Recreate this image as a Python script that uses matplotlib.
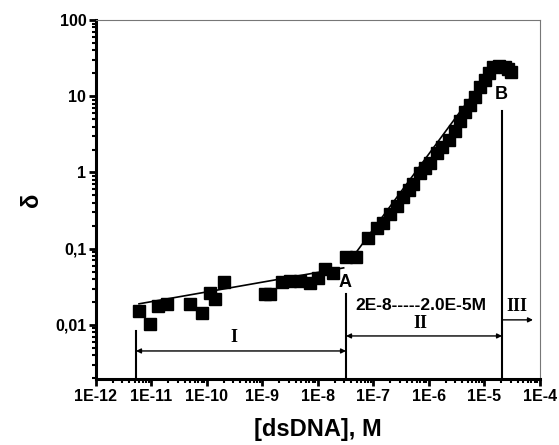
import numpy as np
import matplotlib.pyplot as plt
from matplotlib.ticker import LogLocator, FixedLocator, FixedFormatter, NullFormatter

plt.rcParams['font.family'] = ['Liberation Sans', 'DejaVu Sans']

# данные: область I
x1 = [5.96e-12, 9.4e-12, 1.31e-11, 1.9e-11, 4.9e-11, 8.1e-11, 1.13e-10, 1.39e-10,
      2.02e-10, 1.11e-9, 1.36e-9, 2.24e-9, 3.13e-9, 4.74e-9, 7.18e-9, 1.0e-8,
      1.34e-8, 1.86e-8, 3.2e-8, 4.84e-8]
y1 = [0.0153, 0.0103, 0.0178, 0.0189, 0.0189, 0.0144, 0.0264, 0.022,
      0.0368, 0.0256, 0.0256, 0.0368, 0.0379, 0.0379, 0.0357, 0.0415,
      0.0546, 0.0483, 0.0785, 0.0785]

# область II и III
x2 = [7.96e-8, 1.16e-7, 1.48e-7, 1.98e-7, 2.65e-7, 3.4e-7, 4.36e-7, 5.15e-7,
      6.89e-7, 8.47e-7, 1.04e-6, 1.39e-6, 1.71e-6, 2.29e-6, 2.94e-6, 3.62e-6,
      4.45e-6, 5.48e-6, 6.74e-6, 8.3e-6, 1.02e-5, 1.2e-5, 1.42e-5, 1.82e-5,
      2.3e-5, 2.65e-5, 3.0e-5]
y2 = [0.14, 0.189, 0.22, 0.289, 0.368, 0.483, 0.597, 0.716,
      0.97, 1.16, 1.35, 1.78, 2.13, 2.64, 3.46, 4.69,
      6.15, 7.62, 9.7, 13.1, 16.3, 20.1, 24.1, 25.3,
      24.1, 22.7, 20.7]

# линии аппроксимации
fit1_x = [5.96e-12, 2.9e-8]
fit1_y = [0.0189, 0.0560]
fit2_x = [4.9e-8, 1.42e-5]
fit2_y = [0.090, 24.0]

# границы областей
bound_x = [5.26e-12, 3.2e-8, 2.07e-5]
bound_top = [0.0083, 0.0256, 6.35]

xticks = [1e-12, 1e-11, 1e-10, 1e-9, 1e-8, 1e-7, 1e-6, 1e-5, 1e-4]
xlabels = ['1E-12', '1E-11', '1E-10', '1E-9', '1E-8', '1E-7', '1E-6', '1E-5', '1E-4']
yticks = [0.01, 0.1, 1, 10, 100]
ylabels = ['0,01', '0,1', '1', '10', '100']

fig = plt.figure(figsize=(5.59, 4.45), dpi=100)
ax = fig.add_axes([0.1717, 0.1483, 0.7943, 0.8067])

ax.set_xscale('log')
ax.set_yscale('log')
ax.set_xlim(1e-12, 1e-4)
ax.set_ylim(0.00195, 100)

ax.plot(fit1_x, fit1_y, color='black', lw=1.2)
ax.plot(fit2_x, fit2_y, color='black', lw=1.2)
ax.plot(x1, y1, 's', color='black', ms=9)
ax.plot(x2, y2, 's', color='black', ms=9)

ymin = 0.00195
for bx, bt in zip(bound_x, bound_top):
    ax.plot([bx, bx], [ymin, bt], color='black', lw=1.5)

arr = dict(arrowstyle='<|-|>', color='black', lw=1, mutation_scale=7, shrinkA=0, shrinkB=0)
ax.annotate('', xy=(bound_x[0], 0.00455), xytext=(bound_x[1], 0.00455), arrowprops=arr)
ax.annotate('', xy=(bound_x[1], 0.00716), xytext=(bound_x[2], 0.00716), arrowprops=arr)
ax.annotate('', xy=(7.48e-5, 0.01164), xytext=(bound_x[2], 0.01164),
            arrowprops=dict(arrowstyle='-|>', color='black', lw=1, mutation_scale=7,
                            shrinkA=0, shrinkB=0))

serif = dict(family='Liberation Serif', fontweight='bold', fontsize=13, ha='center', va='center')
ax.text(3.06e-10, 0.0069, 'I', **serif)
ax.text(6.9e-7, 0.0103, 'II', **serif)
ax.text(3.85e-5, 0.0173, 'III', **serif)

ax.text(7.2e-7, 0.0182, '2E-8-----2.0E-5M', fontsize=12.5, fontweight='bold',
        ha='center', va='center')
ax.text(3.1e-8, 0.0357, 'A', fontsize=13, fontweight='bold', ha='center', va='center')
ax.text(2.0e-5, 10.6, 'B', fontsize=13, fontweight='bold', ha='center', va='center')

ax.xaxis.set_major_locator(FixedLocator(xticks))
ax.xaxis.set_major_formatter(FixedFormatter(xlabels))
ax.xaxis.set_minor_locator(LogLocator(base=10, subs=np.arange(2, 10), numticks=20))
ax.xaxis.set_minor_formatter(NullFormatter())
ax.yaxis.set_major_locator(FixedLocator(yticks))
ax.yaxis.set_major_formatter(FixedFormatter(ylabels))
ax.yaxis.set_minor_locator(LogLocator(base=10, subs=np.arange(2, 10), numticks=20))
ax.yaxis.set_minor_formatter(NullFormatter())

ax.tick_params(which='major', direction='out', length=5, width=2, labelsize=11.5, pad=2)
ax.tick_params(which='minor', direction='out', length=3, width=1.5)
for lab in ax.get_xticklabels() + ax.get_yticklabels():
    lab.set_fontweight('bold')

for s in ['left', 'bottom']:
    ax.spines[s].set_linewidth(2.2)
    ax.spines[s].set_color('black')
for s in ['top', 'right']:
    ax.spines[s].set_linewidth(0.8)
    ax.spines[s].set_color('#777777')

ax.set_xlabel('[dsDNA], M', fontsize=17, fontweight='bold', labelpad=10)
ax.set_ylabel('δ', fontsize=17, fontweight='bold', labelpad=9)

fig.savefig('out.png', dpi=100)
